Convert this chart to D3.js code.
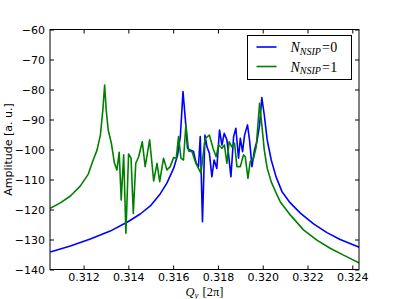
<!DOCTYPE html>
<html>
<head>
<meta charset="utf-8">
<script src="https://cdn.jsdelivr.net/npm/d3@7"></script>
<style>
  body { margin: 0; background: #fff; }
  svg { display: block; }
</style>
</head>
<body>
<script>
const W = 399, H = 299;

// N_NSIP = 0 (blue)
const qBlue = [0.31051, 0.31141, 0.31230, 0.31319, 0.31400, 0.31453, 0.31498, 0.31542, 0.31572, 0.31602,
  0.31620, 0.31632, 0.31644, 0.31654, 0.31664, 0.31676, 0.31691, 0.31703, 0.31713, 0.31721,
  0.31731, 0.31742, 0.31751, 0.31762, 0.31773, 0.31783, 0.31795, 0.31807, 0.31818, 0.31828,
  0.31840, 0.31847, 0.31858, 0.31870, 0.31880, 0.31892, 0.31900, 0.31910, 0.31919, 0.31932,
  0.31941, 0.31952, 0.31963, 0.31974, 0.31986, 0.31996, 0.32007, 0.32020, 0.32038, 0.32060,
  0.32087, 0.32123, 0.32168, 0.32227, 0.32287, 0.32346, 0.32431];
const ampBlue = [-134.2, -132.2, -129.8, -127.2, -124.0, -121.5, -118.8, -114.8, -111.2, -106.3,
  -101.8, -95.7, -80.7, -89.6, -99.6, -100.2, -100.7, -104.6, -105.7, -95.7,
  -124.1, -95.2, -99.1, -101.3, -109.1, -103.5, -106.3, -93.5, -98.5, -94.6,
  -96.8, -101.3, -109.1, -95.7, -92.9, -102.9, -96.3, -100.7, -95.2, -91.8,
  -96.8, -105.7, -100.2, -97.4, -91.8, -82.7, -88.5, -96.8, -103.5, -109.2,
  -114.2, -117.8, -121.2, -124.8, -127.7, -130.0, -132.6];

// N_NSIP = 1 (green)
const qGreen = [0.31051, 0.31096, 0.31141, 0.31185, 0.31221, 0.31243, 0.31260, 0.31275, 0.31286, 0.31294,
  0.31301, 0.31310, 0.31324, 0.31338, 0.31349, 0.31359, 0.31368, 0.31379, 0.31389, 0.31401,
  0.31412, 0.31422, 0.31433, 0.31446, 0.31462, 0.31475, 0.31495, 0.31513, 0.31528, 0.31540,
  0.31557, 0.31572, 0.31587, 0.31602, 0.31614, 0.31624, 0.31635, 0.31646, 0.31657, 0.31669,
  0.31684, 0.31699, 0.31709, 0.31724, 0.31743, 0.31762, 0.31778, 0.31792, 0.31803, 0.31818,
  0.31829, 0.31840, 0.31850, 0.31862, 0.31874, 0.31885, 0.31900, 0.31914, 0.31922, 0.31934,
  0.31944, 0.31959, 0.31971, 0.31986, 0.31996, 0.32007, 0.32020, 0.32038, 0.32060, 0.32078,
  0.32123, 0.32182, 0.32242, 0.32301, 0.32361, 0.32432];
const ampGreen = [-119.6, -117.8, -115.5, -112.2, -108.2, -103.5, -100.2, -95.2, -86.8, -78.5,
  -86.8, -93.5, -97.9, -104.6, -106.8, -100.9, -116.8, -101.8, -127.9, -101.5,
  -102.9, -121.3, -104.6, -102.4, -97.4, -105.7, -96.8, -110.5, -104.6, -110.7,
  -102.9, -106.8, -105.7, -102.7, -102.9, -95.7, -102.9, -103.5, -91.8, -100.5,
  -100.7, -104.1, -105.7, -107.9, -96.3, -95.2, -99.6, -102.4, -98.5, -99.6,
  -98.5, -104.6, -97.4, -99.1, -97.9, -105.7, -105.7, -101.8, -102.4, -109.6,
  -104.1, -102.9, -99.1, -84.6, -91.8, -100.2, -106.2, -110.8, -114.5, -117.4,
  -121.8, -126.8, -130.2, -132.9, -135.2, -137.9];

const xTicks = [0.312, 0.314, 0.316, 0.318, 0.320, 0.322, 0.324];
const yTicks = [-60, -70, -80, -90, -100, -110, -120, -130, -140];

const margin = { left: 50, right: 40, top: 29.5, bottom: 29.5 };
const iw = W - margin.left - margin.right;
const ih = H - margin.top - margin.bottom;

const x = d3.scaleLinear().domain([0.3105, 0.3243]).range([0, iw]);
const y = d3.scaleLinear().domain([-140, -60]).range([ih, 0]);

const svg = d3.select("body").append("svg")
  .attr("width", W).attr("height", H);

const g = svg.append("g").attr("transform", `translate(${margin.left},${margin.top})`);

const fmtY = d => d < 0 ? "\u2212" + Math.abs(d) : String(d);

function styleAxis(sel) {
  sel.select(".domain").remove();
  sel.selectAll("line").attr("stroke", "#000").attr("stroke-width", 1);
  sel.selectAll("text").attr("font-family", "DejaVu Sans").attr("font-size", 11).attr("fill", "#000");
}

g.append("g").attr("transform", `translate(0,${ih})`)
  .call(d3.axisBottom(x).tickValues(xTicks).tickFormat(d3.format(".3f")).tickSizeInner(-4).tickSizeOuter(0).tickPadding(4))
  .call(styleAxis);
g.append("g")
  .call(d3.axisTop(x).tickValues(xTicks).tickFormat("").tickSizeInner(-4).tickSizeOuter(0))
  .call(styleAxis);
g.append("g")
  .call(d3.axisLeft(y).tickValues(yTicks).tickFormat(fmtY).tickSizeInner(-4).tickSizeOuter(0).tickPadding(5))
  .call(styleAxis);
g.append("g").attr("transform", `translate(${iw},0)`)
  .call(d3.axisRight(y).tickValues(yTicks).tickFormat("").tickSizeInner(-4).tickSizeOuter(0))
  .call(styleAxis);

g.append("defs").append("clipPath").attr("id", "clip")
  .append("rect").attr("width", iw).attr("height", ih);

const line = d3.line().x(d => x(d[0])).y(d => y(d[1]));

const series = [
  { q: qBlue, a: ampBlue, color: "#0000ff" },
  { q: qGreen, a: ampGreen, color: "#008000" }
];

g.append("g").attr("clip-path", "url(#clip)")
  .selectAll("path").data(series).join("path")
  .attr("d", s => line(s.q.map((q, i) => [q, s.a[i]])))
  .attr("fill", "none")
  .attr("stroke", s => s.color)
  .attr("stroke-width", 1.6)
  .attr("stroke-linejoin", "round");

g.append("rect").attr("width", iw).attr("height", ih)
  .attr("fill", "none").attr("stroke", "#000").attr("stroke-width", 1);

// legend
const leg = g.append("g").attr("transform", `translate(${247.5 - margin.left},${35.5 - margin.top})`);
leg.append("rect").attr("width", 104).attr("height", 44)
  .attr("fill", "#fff").attr("stroke", "#000").attr("stroke-width", 1);
const labels = ["0", "1"];
series.forEach((s, i) => {
  const yy = 11.5 + i * 19.5;
  leg.append("line").attr("x1", 9).attr("x2", 29).attr("y1", yy).attr("y2", yy)
    .attr("stroke", s.color).attr("stroke-width", 1.6);
  const t = leg.append("text").attr("x", 43).attr("y", yy + 5)
    .attr("font-family", "Liberation Serif").attr("font-size", 14).attr("fill", "#000");
  t.append("tspan").attr("font-style", "italic").text("N");
  t.append("tspan").attr("font-style", "italic").attr("font-size", 10).attr("dy", 2.5).text("NSIP");
  t.append("tspan").attr("dy", -2.5).attr("dx", 1).text("=");
  t.append("tspan").attr("dx", 0.5).text(labels[i]);
});

// axis labels
svg.append("text")
  .attr("transform", `translate(12,${margin.top + ih / 2}) rotate(-90)`)
  .attr("text-anchor", "middle")
  .attr("font-family", "DejaVu Sans").attr("font-size", 11)
  .text("Amplitude [a. u.]");

const xl = svg.append("text")
  .attr("x", margin.left + iw / 2).attr("y", 295.5)
  .attr("text-anchor", "middle")
  .attr("font-family", "Liberation Serif").attr("font-size", 12.5);
xl.append("tspan").attr("font-style", "italic").text("Q");
xl.append("tspan").attr("font-style", "italic").attr("font-size", 9).attr("dy", 2.5).text("y");
xl.append("tspan").attr("dy", -2.5).attr("dx", 4).text("[2\u03c0]");
</script>
</body>
</html>
